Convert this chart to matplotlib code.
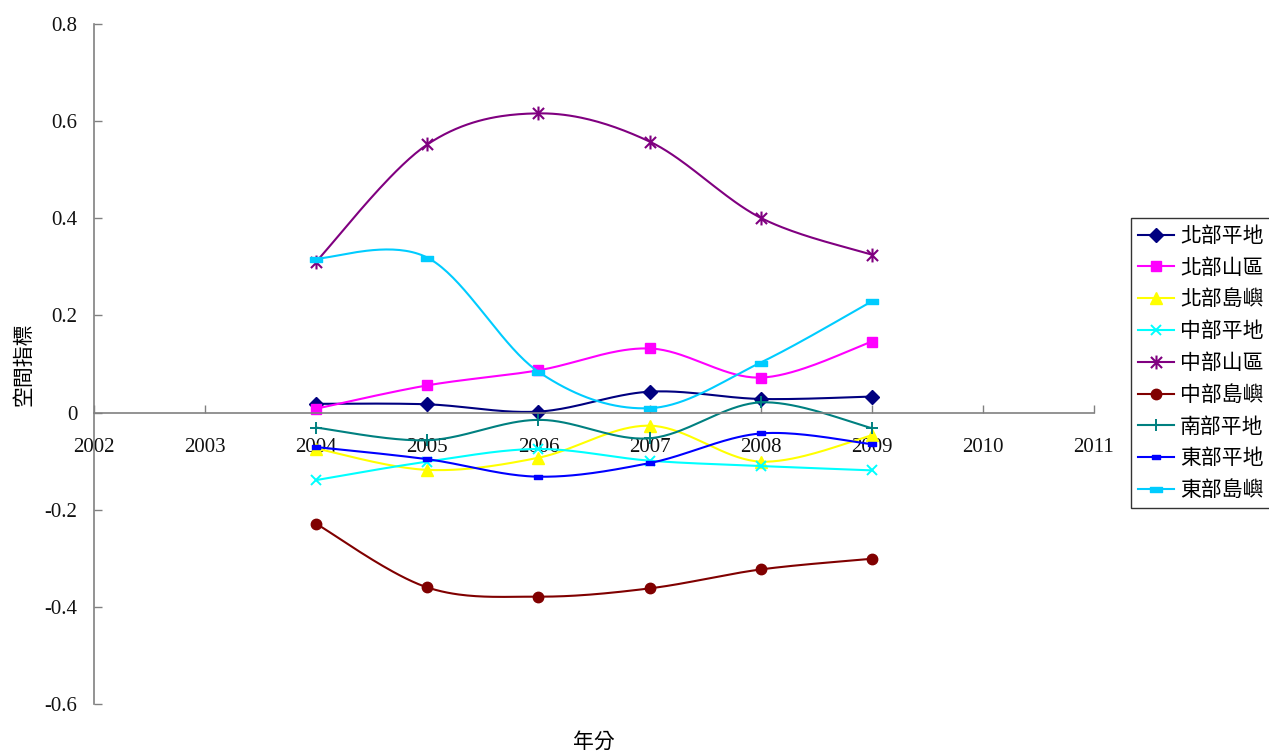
import numpy as np
import matplotlib
matplotlib.use("Agg")
import matplotlib.pyplot as plt
from matplotlib.path import Path

plt.rcParams['font.family'] = ['Noto Sans CJK TC', 'DejaVu Sans']

years = [2004, 2005, 2006, 2007, 2008, 2009]
series_names = ['北部平地', '北部山區', '北部島嶼', '中部平地', '中部山區',
                '中部島嶼', '南部平地', '東部平地', '東部島嶼']

north_plain = [0.018, 0.017, 0.002, 0.043, 0.028, 0.033]
north_mountain = [0.008, 0.056, 0.087, 0.132, 0.072, 0.146]
north_island = [-0.074, -0.118, -0.093, -0.027, -0.101, -0.047]
central_plain = [-0.139, -0.101, -0.075, -0.099, -0.110, -0.119]
central_mountain = [0.311, 0.552, 0.616, 0.558, 0.401, 0.325]
central_island = [-0.229, -0.360, -0.379, -0.362, -0.323, -0.301]
south_plain = [-0.031, -0.057, -0.015, -0.053, 0.021, -0.032]
east_plain = [-0.071, -0.096, -0.132, -0.104, -0.043, -0.065]
east_island = [0.317, 0.319, 0.084, 0.009, 0.103, 0.229]

values = [north_plain, north_mountain, north_island, central_plain,
          central_mountain, central_island, south_plain, east_plain, east_island]

x_ticks = list(range(2002, 2012))
y_ticks = [-0.6, -0.4, -0.2, 0, 0.2, 0.4, 0.6, 0.8]
y_tick_labels = ['-0.6', '-0.4', '-0.2', '0', '0.2', '0.4', '0.6', '0.8']

# custom markers: asterisk (x with a vertical bar) and a short flat bar
star = Path([(-1, -1), (1, 1), (-1, 1), (1, -1), (0, -1.25), (0, 1.25)],
            [Path.MOVETO, Path.LINETO, Path.MOVETO, Path.LINETO, Path.MOVETO, Path.LINETO])
bar = Path([(-1, -0.45), (1, -0.45), (1, 0.45), (-1, 0.45), (-1, -0.45)],
           [Path.MOVETO, Path.LINETO, Path.LINETO, Path.LINETO, Path.CLOSEPOLY])

styles = [
    dict(color='#000080', marker='D', ms=7),
    dict(color='#FF00FF', marker='s', ms=7.5),
    dict(color='#FFFF00', marker='^', ms=8.5),
    dict(color='#00FFFF', marker='x', ms=7.5, mew=1.4),
    dict(color='#800080', marker=star, ms=10, mew=1.5, mfc='none'),
    dict(color='#800000', marker='o', ms=7.5),
    dict(color='#008080', marker='+', ms=9, mew=1.4),
    dict(color='#0000FF', marker=bar, ms=6),
    dict(color='#00CCFF', marker=bar, ms=8),
]


def smooth(xs, ys, n=40):
    """Bezier spline through the points (Catmull-Rom style tangents)."""
    P = np.column_stack([xs, ys]).astype(float)
    ext = np.vstack([P[0], P, P[-1]])
    t = np.linspace(0, 1, n)[:, None]
    parts = []
    for i in range(len(P) - 1):
        p0, p1, p2, p3 = ext[i], ext[i + 1], ext[i + 2], ext[i + 3]
        c1 = p1 + (p2 - p0) / 6.0
        c2 = p2 - (p3 - p1) / 6.0
        seg = ((1 - t) ** 3) * p1 + 3 * ((1 - t) ** 2) * t * c1 \
            + 3 * (1 - t) * (t ** 2) * c2 + (t ** 3) * p2
        parts.append(seg if i == 0 else seg[1:])
    return np.vstack(parts), n


fig = plt.figure(figsize=(12.69, 7.54), dpi=100, facecolor='white')
ax = fig.add_axes([94 / 1269, 50 / 754, 1000 / 1269, 680 / 754])

for name, vals, st in zip(series_names, values, styles):
    curve, n = smooth(years, vals)
    marks = [k * (n - 1) for k in range(len(years))]
    st = dict(st)
    color = st.pop('color')
    ax.plot(curve[:, 0], curve[:, 1], color=color, lw=1.5, label=name,
            markevery=marks, mec=color, mfc=st.pop('mfc', color), **st)

ax.set_xlim(2002, 2011)
ax.set_ylim(-0.6, 0.8)
ax.set_xticks(x_ticks)
ax.set_xticklabels([str(v) for v in x_ticks])
ax.set_yticks(y_ticks)
ax.set_yticklabels(y_tick_labels)

for side in ('top', 'right'):
    ax.spines[side].set_visible(False)
ax.spines['bottom'].set_position(('data', 0))
for side in ('left', 'bottom'):
    ax.spines[side].set_color('#808080')
    ax.spines[side].set_linewidth(1.2)

ax.tick_params(axis='x', direction='in', length=6, width=1, color='#808080', pad=18)
ax.tick_params(axis='y', direction='in', length=6, width=1, color='#808080', pad=12)
for lab in ax.get_xticklabels() + ax.get_yticklabels():
    lab.set_fontfamily('Liberation Serif')
    lab.set_fontsize(15)
    lab.set_color('#111111')

ax.set_xlabel('年分', fontsize=15)
ax.xaxis.set_label_coords(0.5, -0.04)
ax.set_ylabel('空間指標', fontsize=15)
ax.yaxis.label.set_va('center')
ax.yaxis.set_label_coords(-0.071, 0.5)

leg = fig.legend(loc='center left', bbox_to_anchor=(1131 / 1269, 1 - 363 / 754),
                 fontsize=15, frameon=True, fancybox=False, edgecolor='black',
                 handlelength=1.7, handletextpad=0.3, borderpad=0.35,
                 labelspacing=0.47, borderaxespad=0)
leg.get_frame().set_linewidth(1.0)

fig.savefig('out.png', dpi=100, facecolor='white')
